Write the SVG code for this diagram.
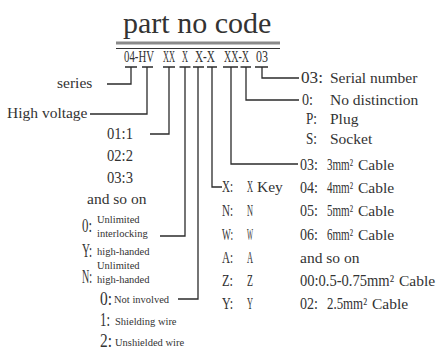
<svg xmlns="http://www.w3.org/2000/svg" width="439" height="350" viewBox="0 0 439 350">
<style>
.s{font-family:"Liberation Serif",serif;fill:#333}
.m{font-family:"Liberation Serif",serif;fill:#333}
.n{font-size:15.5px}
.sm{font-size:10.5px}
.k{font-size:16.5px}
.b{font-size:19px}
.c{stroke:#2b2b2b;stroke-width:1.3;fill:none}
</style>
<rect width="439" height="350" fill="#fff"/>
<g id="title">
<text class="s" x="123" y="33" font-size="30">part no code</text>
<line x1="116" y1="43" x2="280" y2="43" stroke="#8a8a8a" stroke-width="3"/>
<line x1="116" y1="48.5" x2="280" y2="48.5" stroke="#333" stroke-width="1"/>
</g>
<g id="code" class="m" font-size="17.5">
<text x="124" y="62" textLength="30" lengthAdjust="spacingAndGlyphs">04-HV</text>
<text x="163" y="62" textLength="12" lengthAdjust="spacingAndGlyphs">XX</text>
<text x="182" y="62" textLength="6" lengthAdjust="spacingAndGlyphs">X</text>
<text x="195" y="62" textLength="20" lengthAdjust="spacingAndGlyphs">X-X</text>
<text x="224" y="62" textLength="25" lengthAdjust="spacingAndGlyphs">XX-X</text>
<text x="256" y="62" textLength="12" lengthAdjust="spacingAndGlyphs">03</text>
</g>
<g id="connectors" class="c">
<path d="M125 67H137M131 67V84H107"/>
<path d="M142 67H153M147 67V114H90"/>
<path d="M163 67H175M169 67V134H150"/>
<path d="M179.5 67H190.5M185 67V236H160"/>
<path d="M193 67H204M198 67V299H178"/>
<path d="M207 67H217M212 67V187H222"/>
<path d="M223 67H238M231 67V164H298"/>
<path d="M240.5 67H251M246 67V100H299"/>
<path d="M255 67H268M262 67V78H299"/>
</g>
<g id="series"><text class="s n" x="57" y="88">series</text></g>
<g id="high-voltage"><text class="s n" x="7" y="118">High voltage</text></g>
<g id="count">
<text class="m k" x="107" y="139" textLength="26" lengthAdjust="spacingAndGlyphs">01:1</text>
<text class="m k" x="107" y="161" textLength="26" lengthAdjust="spacingAndGlyphs">02:2</text>
<text class="m k" x="107" y="183" textLength="26" lengthAdjust="spacingAndGlyphs">03:3</text>
<text class="s n" x="87" y="204">and so on</text>
</g>
<g id="interlock">
<text class="m b" x="82" y="232" textLength="10" lengthAdjust="spacingAndGlyphs">0:</text>
<text class="s sm" x="97" y="223">Unlimited</text>
<text class="s sm" x="97" y="237">interlocking</text>
<text class="m b" x="82" y="257" textLength="10" lengthAdjust="spacingAndGlyphs">Y:</text>
<text class="s sm" x="97" y="255">high-handed</text>
<text class="m b" x="82" y="283" textLength="10" lengthAdjust="spacingAndGlyphs">N:</text>
<text class="s sm" x="97" y="269">Unlimited</text>
<text class="s sm" x="97" y="283">high-handed</text>
</g>
<g id="shield">
<text class="m b" x="100" y="305" textLength="12" lengthAdjust="spacingAndGlyphs">0:</text>
<text class="s sm" x="114" y="302.5">Not involved</text>
<text class="m b" x="100" y="326" textLength="10" lengthAdjust="spacingAndGlyphs">1:</text>
<text class="s sm" x="115" y="324.5">Shielding wire</text>
<text class="m b" x="100" y="347" textLength="12" lengthAdjust="spacingAndGlyphs">2:</text>
<text class="s sm" x="115" y="346">Unshielded wire</text>
</g>
<g id="key">
<text class="m k" x="222" y="192" textLength="11" lengthAdjust="spacingAndGlyphs">X:</text>
<text class="m k" x="247" y="192" textLength="6" lengthAdjust="spacingAndGlyphs">X</text>
<text class="s n" x="257" y="192">Key</text>
<text class="m k" x="222" y="216" textLength="11" lengthAdjust="spacingAndGlyphs">N:</text>
<text class="m k" x="247" y="216" textLength="6" lengthAdjust="spacingAndGlyphs">N</text>
<text class="m k" x="222" y="240" textLength="11" lengthAdjust="spacingAndGlyphs">W:</text>
<text class="m k" x="247" y="240" textLength="6" lengthAdjust="spacingAndGlyphs">W</text>
<text class="m k" x="222" y="263" textLength="11" lengthAdjust="spacingAndGlyphs">A:</text>
<text class="m k" x="247" y="263" textLength="6" lengthAdjust="spacingAndGlyphs">A</text>
<text class="m k" x="222" y="286" textLength="11" lengthAdjust="spacingAndGlyphs">Z:</text>
<text class="m k" x="247" y="286" textLength="6" lengthAdjust="spacingAndGlyphs">Z</text>
<text class="m k" x="222" y="309" textLength="11" lengthAdjust="spacingAndGlyphs">Y:</text>
<text class="m k" x="247" y="309" textLength="6" lengthAdjust="spacingAndGlyphs">Y</text>
</g>
<g id="cable">
<text class="m k" x="300" y="170" textLength="18" lengthAdjust="spacingAndGlyphs">03:</text>
<text class="m k" x="327" y="170" textLength="26" lengthAdjust="spacingAndGlyphs">3mm²</text>
<text class="s n" x="358" y="170">Cable</text>
<text class="m k" x="300" y="193" textLength="18" lengthAdjust="spacingAndGlyphs">04:</text>
<text class="m k" x="327" y="193" textLength="26" lengthAdjust="spacingAndGlyphs">4mm²</text>
<text class="s n" x="358" y="193">Cable</text>
<text class="m k" x="300" y="216" textLength="18" lengthAdjust="spacingAndGlyphs">05:</text>
<text class="m k" x="327" y="216" textLength="26" lengthAdjust="spacingAndGlyphs">5mm²</text>
<text class="s n" x="358" y="216">Cable</text>
<text class="m k" x="300" y="240" textLength="18" lengthAdjust="spacingAndGlyphs">06:</text>
<text class="m k" x="327" y="240" textLength="26" lengthAdjust="spacingAndGlyphs">6mm²</text>
<text class="s n" x="358" y="240">Cable</text>
<text class="s n" x="300" y="263">and so on</text>
<text class="m k" x="300" y="286" textLength="94" lengthAdjust="spacingAndGlyphs">00:0.5-0.75mm²</text>
<text class="s n" x="399" y="286">Cable</text>
<text class="m k" x="300" y="309" textLength="18" lengthAdjust="spacingAndGlyphs">02:</text>
<text class="m k" x="327" y="309" textLength="40" lengthAdjust="spacingAndGlyphs">2.5mm²</text>
<text class="s n" x="372" y="309">Cable</text>
</g>
<g id="terminal">
<text class="m k" x="302" y="105" textLength="11" lengthAdjust="spacingAndGlyphs">0:</text>
<text class="s n" x="330" y="105">No distinction</text>
<text class="m k" x="306" y="124" textLength="11" lengthAdjust="spacingAndGlyphs">P:</text>
<text class="s n" x="330" y="124">Plug</text>
<text class="m k" x="306" y="144" textLength="11" lengthAdjust="spacingAndGlyphs">S:</text>
<text class="s n" x="330" y="144">Socket</text>
</g>
<g id="serial">
<text class="m k" x="301" y="83" textLength="22" lengthAdjust="spacingAndGlyphs">03:</text>
<text class="s n" x="330" y="83">Serial number</text>
</g>
</svg>
